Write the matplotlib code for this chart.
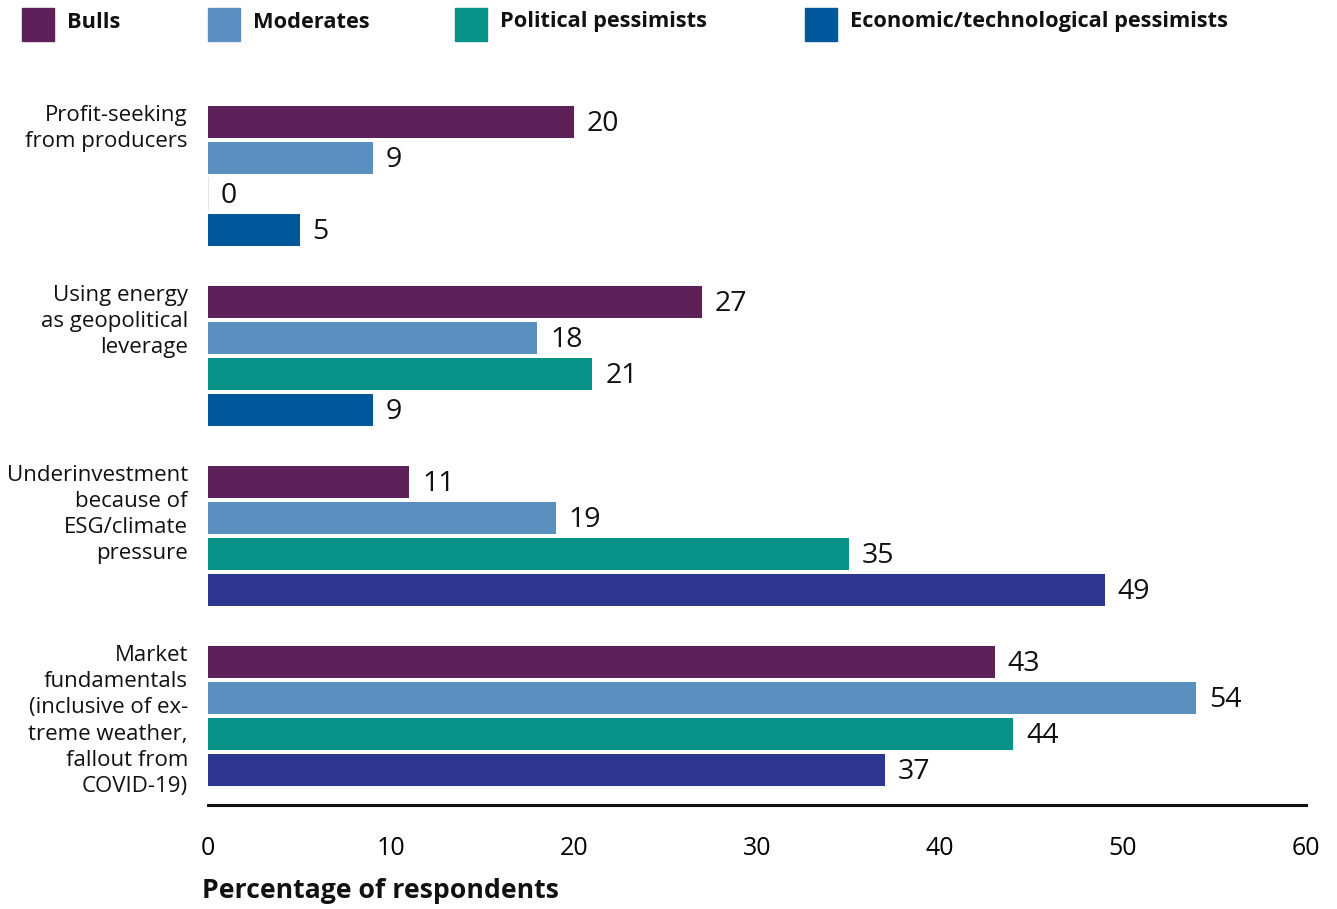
import numpy as np
import matplotlib.pyplot as plt
from matplotlib.patches import Rectangle

plt.rcParams['font.family'] = ['Open Sans', 'DejaVu Sans']

categories = ['Profit-seeking\nfrom producers',
              'Using energy\nas geopolitical\nleverage',
              'Underinvestment\nbecause of\nESG/climate\npressure',
              'Market\nfundamentals\n(inclusive of ex-\ntreme weather,\nfallout from\nCOVID-19)']
series = ['Bulls', 'Moderates', 'Political pessimists', 'Economic/technological pessimists']
bulls = [20, 27, 11, 43]
moderates = [9, 18, 19, 54]
political = [0, 21, 35, 44]
economic = [5, 9, 49, 37]
values = [bulls, moderates, political, economic]

colors = ['#5e2058', '#5b8fc0', '#079488', '#00579a']
econ_colors = ['#00579a', '#00579a', '#2e3790', '#2e3790']   # last series changes shade
xticks = [0, 10, 20, 30, 40, 50, 60]

fig = plt.figure(figsize=(13.37, 9.09), dpi=100)
ax = fig.add_axes([0.1556, 0.1144, 0.8212, 0.791])

for s, vals in enumerate(values):
    for g, v in enumerate(vals):
        y = g * 5 + s
        c = econ_colors[g] if s == 3 else colors[s]
        if v == 0:
            ax.plot([0, 0], [y - 0.44, y + 0.44], color='#d5e3e3', lw=1.2)
        else:
            ax.barh(y, v, height=0.88, color=c)
        ax.text(v + 0.7, y + 0.05, str(v), ha='left', va='center', fontsize=20.5, color='#111111')

for g, cat in enumerate(categories):
    ax.text(-1.1, g * 5 - 0.47, cat, ha='right', va='top', fontsize=16,
            linespacing=1.32, color='#111111')

ax.set_xlim(0, 60)
ax.set_ylim(18.97, -1)
ax.set_xticks(xticks)
ax.set_xticklabels([str(t) for t in xticks], fontsize=18)
ax.tick_params(axis='x', length=0, pad=22)
ax.set_yticks([])
for sp in ['top', 'right', 'left']:
    ax.spines[sp].set_visible(False)
ax.spines['bottom'].set_linewidth(2.2)
ax.spines['bottom'].set_color('#111111')

fig.text(202 / 1337, 1 - 891 / 909, 'Percentage of respondents', ha='left', va='center',
         fontsize=19.2, fontweight='bold', color='#111111')

# legend drawn by hand across the top
leg_x = [22, 208, 455, 805]
for s, name in enumerate(series):
    fig.patches.append(Rectangle((leg_x[s] / 1337, 1 - 41 / 909), 32 / 1337, 33 / 909,
                                 transform=fig.transFigure, color=colors[s]))
    fig.text((leg_x[s] + 45) / 1337, 1 - 22 / 909, name, ha='left', va='center',
             fontsize=15.7, fontweight='bold', color='#111111')

fig.savefig('out.png', dpi=100)
